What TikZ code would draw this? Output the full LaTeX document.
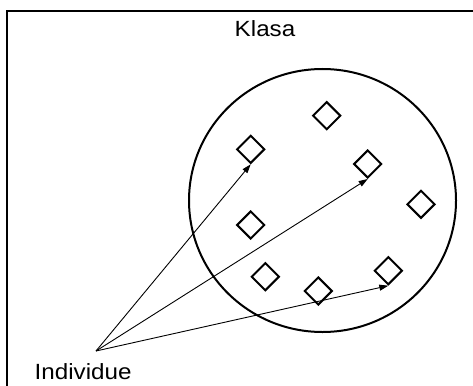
\documentclass[tikz,border=0pt]{standalone}
\usepackage{fontspec}
\setmainfont{Liberation Sans}
\usetikzlibrary{shapes.geometric,arrows.meta}
\tikzset{
  member/.style={diamond,draw,line width=2pt,inner sep=0pt,minimum size=28pt},
  pointer/.style={line width=0.9pt,-{Triangle[length=9pt,width=6pt]}},
  label/.style={inner sep=0pt,font=\fontsize{22}{26}\selectfont}
}
\begin{document}
\begin{tikzpicture}[x=1pt,y=-1pt]
\useasboundingbox (0,0) rectangle (473,385);
\fill[white] (0,0) rectangle (473,385);
% frame (top and left edges)
\draw[line width=2pt] (7,386) -- (7,11) -- (474,11);
% class
\draw[line width=2pt] (322.5,200.5) ellipse [x radius=133.5, y radius=131.5];
\node[label,anchor=base] (klasa) at (265,36.7) {\scalebox{1.1}[1]{Klasa}};
% individuals
\node[member] (d1) at (326.7,115.7) {};
\node[member] (d2) at (250.7,149.3) {};
\node[member] (d3) at (367.7,164) {};
\node[member] (d4) at (421,204.3) {};
\node[member] (d5) at (250.7,225) {};
\node[member] (d6) at (265.3,276.7) {};
\node[member] (d7) at (318.3,291) {};
\node[member] (d8) at (388.3,270.7) {};
\node[label,anchor=base west] (ind) at (34.5,379.3) {\scalebox{1.1}[1]{Individue}};
\coordinate (src) at (96,351);
\draw[pointer] (src) -- (d2.south);
\draw[pointer] (src) -- (d3.south);
\draw[pointer] (src) -- (d8.south);
\end{tikzpicture}
\end{document}
